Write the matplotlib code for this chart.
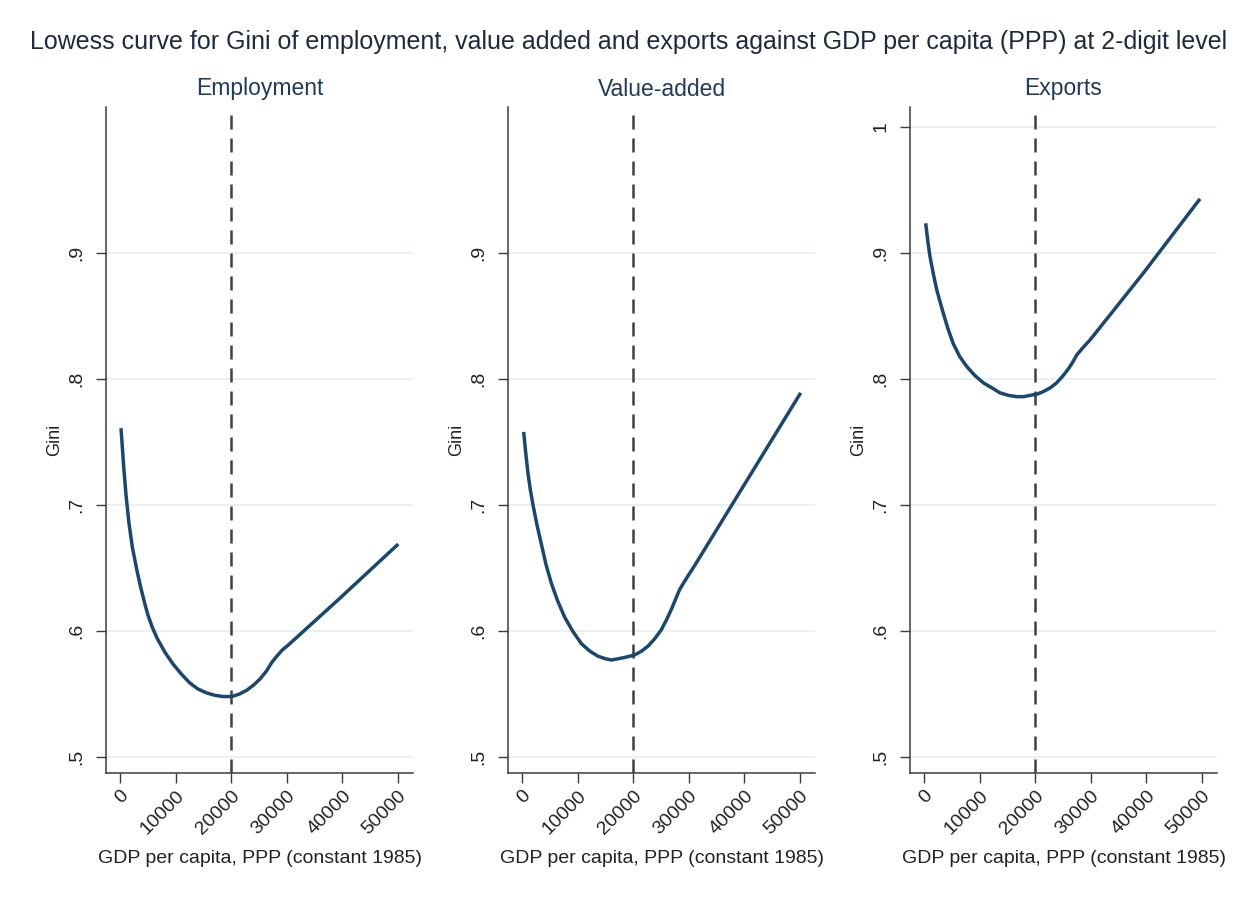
import matplotlib
matplotlib.use("Agg")
import matplotlib.pyplot as plt

plt.rcParams['font.family'] = ['Liberation Sans', 'DejaVu Sans']

# Lowess fits of sectoral Gini against GDP per capita (PPP, constant 1985)
emp_x = [180, 700, 1100, 1600, 2200, 3000, 3700, 4500, 5000, 5800, 6700, 8100,
         9500, 11000, 12500, 14000, 15500, 17000, 18500, 20100, 21500, 22800,
         24000, 25200, 26300, 27300, 28200, 29200, 30300, 39300, 50050]
emp_y = [0.761, 0.728, 0.707, 0.686, 0.667, 0.649, 0.635, 0.621, 0.613, 0.603,
         0.594, 0.583, 0.574, 0.566, 0.559, 0.554, 0.551, 0.549, 0.548, 0.548,
         0.550, 0.553, 0.557, 0.562, 0.568, 0.575, 0.580, 0.585, 0.589, 0.625,
         0.669]

va_x = [300, 700, 1080, 1500, 1980, 2700, 3480, 4300, 5270, 6400, 7670, 9100,
        10670, 12200, 13670, 15000, 16070, 17300, 18470, 20270, 21500, 22660,
        23900, 25060, 26000, 26850, 27600, 28360, 29600, 31060, 38850, 50120]
va_y = [0.758, 0.740, 0.725, 0.712, 0.700, 0.684, 0.669, 0.653, 0.638, 0.624,
        0.611, 0.600, 0.590, 0.584, 0.580, 0.578, 0.577, 0.578, 0.579, 0.581,
        0.584, 0.588, 0.594, 0.601, 0.609, 0.617, 0.625, 0.633, 0.642, 0.652,
        0.708, 0.789]

exp_x = [300, 700, 1080, 1700, 2280, 2900, 3480, 4300, 5270, 6400, 7670, 9100,
         10670, 12200, 13670, 15200, 16670, 17900, 19060, 20300, 21460, 22700,
         23860, 24900, 25960, 26700, 27460, 28600, 29860, 39440, 49640]
exp_y = [0.9236, 0.909, 0.897, 0.883, 0.871, 0.861, 0.852, 0.840, 0.828, 0.818,
         0.810, 0.803, 0.797, 0.793, 0.789, 0.787, 0.786, 0.786, 0.787, 0.788,
         0.790, 0.793, 0.797, 0.802, 0.808, 0.813, 0.819, 0.825, 0.831, 0.884,
         0.943]

panel_titles = ["Employment", "Value-added", "Exports"]
series = [(emp_x, emp_y), (va_x, va_y), (exp_x, exp_y)]
yticks_by_panel = [[0.5, 0.6, 0.7, 0.8, 0.9], [0.5, 0.6, 0.7, 0.8, 0.9],
                   [0.5, 0.6, 0.7, 0.8, 0.9, 1.0]]
ytick_labels = {0.5: ".5", 0.6: ".6", 0.7: ".7", 0.8: ".8", 0.9: ".9", 1.0: "1"}
xticks = [0, 10000, 20000, 30000, 40000, 50000]
threshold = 20000

W, H = 1249, 905
fig = plt.figure(figsize=(W / 100, H / 100), dpi=100)
fig.patch.set_facecolor("white")

line_col = "#1a476f"
axis_col = "#3c3c3c"
grid_col = "#e6eef0"
title_col = "#1f3a5c"

lefts = [106, 508, 910]
ax_w, ax_top, ax_bot = 307, 107, 773

fig.text(629 / W, 1 - 42 / H,
         "Lowess curve for Gini of employment, value added and exports against GDP per capita (PPP) at 2-digit level",
         ha="center", va="center", fontsize=18, color="#1e2a40")

for i, ax_left in enumerate(lefts):
    ax = fig.add_axes([ax_left / W, 1 - ax_bot / H, ax_w / W, (ax_bot - ax_top) / H])
    xs, ys = series[i]
    ax.set_xlim(-2520, 52700)
    ax.set_ylim(0.4873, 1.0159)
    ax.set_yticks(yticks_by_panel[i])
    ax.set_yticklabels([ytick_labels[v] for v in yticks_by_panel[i]])
    ax.set_xticks(xticks)
    ax.set_xticklabels([str(v) for v in xticks])
    for t in yticks_by_panel[i]:
        ax.axhline(t, color=grid_col, lw=1.1, zorder=0)
    ax.axvline(threshold, color="#404040", lw=1.8, linestyle=(0, (5.6, 3.6)), zorder=2)
    ax.plot(xs, ys, color=line_col, lw=2.5, solid_capstyle="butt",
            solid_joinstyle="round", zorder=3)

    for s in ["top", "right"]:
        ax.spines[s].set_visible(False)
    for s in ["left", "bottom"]:
        ax.spines[s].set_color(axis_col)
        ax.spines[s].set_linewidth(1.1)
    ax.tick_params(axis="both", direction="out", length=7, width=1.0, color=axis_col,
                   labelsize=14, labelcolor="#222222")
    ax.tick_params(axis="y", pad=8)
    ax.tick_params(axis="x", pad=3.5)
    for lab in ax.get_yticklabels():
        lab.set_rotation(90)
        lab.set_va("center")
        lab.set_ha("right")
    for lab in ax.get_xticklabels():
        lab.set_rotation(45)
        lab.set_ha("right")
        lab.set_va("top")
        lab.set_rotation_mode("anchor")

    cx = (ax_left + ax_w / 2) / W
    fig.text(cx, 1 - 89 / H, panel_titles[i], ha="center", va="center",
             fontsize=16.5, color=title_col)
    fig.text(cx, 1 - 858 / H, "GDP per capita, PPP (constant 1985)", ha="center",
             va="center", fontsize=14, color="#222222")
    fig.text((ax_left - 51) / W, 1 - 440 / H, "Gini", ha="center", va="center",
             rotation=90, fontsize=13, color="#222222")

fig.savefig("out.png", dpi=100, facecolor="white")
